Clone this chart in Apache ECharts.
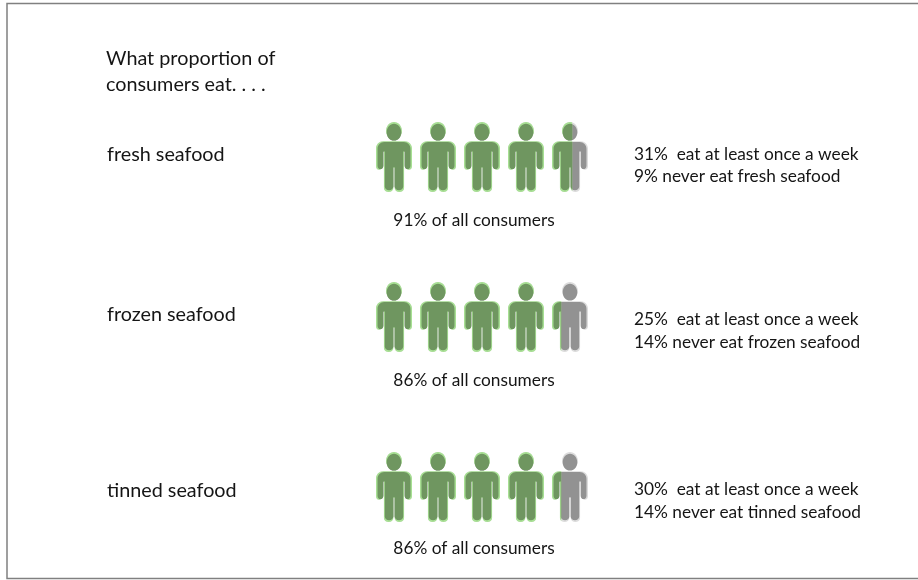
<!DOCTYPE html>
<html>
<head>
<meta charset="utf-8">
<style>html,body{margin:0;padding:0;background:#fff}#chart{width:918px;height:580px}</style>
<script src="https://cdn.jsdelivr.net/npm/echarts@6/dist/echarts.min.js"></script>
</head>
<body>
<div id="chart"></div>
<script>
const categories = ['fresh seafood', 'frozen seafood', 'tinned seafood'];
const eatPercent = [91, 86, 86];
const weeklyPercent = [31, 25, 30];
const neverPercent = [9, 14, 14];
const scaleMax = 100;
const figuresPerRow = 5;

// Vertical placement of each row's figures and captions
const rowTops = [123, 283, 453];
const nameY = [155, 315, 491];
const shareY = [220, 380, 548];
const weeklyY = [154, 319, 489];
const neverY = [176, 342, 512];
const font = 'Lato, Carlito, "Open Sans", sans-serif';

const person = 'path://M17 0C21.2 0 24.5 3.8 24.5 8.5C24.5 13.2 21.2 17 17 17C12.8 17 9.5 13.2 9.5 8.5C9.5 3.8 12.8 0 17 0Z' +
  'M7 18.5H27C31 18.5 34 21.5 34 25.5V42.5C34 47 28 47 28 42.5V28H26.5V63.5C26.5 68.5 17.7 68.5 17.7 63.5V44H16.3V63.5' +
  'C16.3 68.5 7.5 68.5 7.5 63.5V28H6V42.5C6 47 0 47 0 42.5V25.5C0 21.5 3 18.5 7 18.5Z';

const grids = rowTops.map(top => ({ left: 372, width: 220, top, height: 68 }));
const xAxes = rowTops.map((_, i) => ({ type: 'value', gridIndex: i, min: 0, max: scaleMax, show: false }));
const yAxes = categories.map((name, i) => ({
  type: 'category', gridIndex: i, data: [name],
  axisLine: { show: false }, axisTick: { show: false }, axisLabel: { show: false }
}));

// One row of figures, clipped at the given percentage of the row's length
function row(i, value, fill, size, z) {
  return {
    type: 'pictorialBar', xAxisIndex: i, yAxisIndex: i, z,
    data: [value], symbol: person, symbolSize: size,
    symbolRepeat: figuresPerRow, symbolMargin: '5!', symbolClip: true,
    symbolBoundingData: scaleMax, silent: true, animation: false,
    itemStyle: { color: fill }
  };
}
const halo = [36, 70];
const body = [33, 66.5];
const series = [];
categories.forEach((_, i) => {
  series.push(row(i, scaleMax, '#dcdcdc', halo, 2));
  series.push(row(i, scaleMax, '#929292', body, 3));
  series.push(row(i, eatPercent[i], '#a8e094', halo, 4));
  series.push(row(i, eatPercent[i], '#6f9660', body, 5));
});

function text(x, y, str, size, align) {
  return { type: 'text', x, y, style: {
    text: str, fill: '#151515', font: size + 'px ' + font,
    textAlign: align || 'left', textVerticalAlign: 'middle'
  } };
}
const textEls = [
  text(106, 59, 'What proportion of', 19.8),
  text(106, 85, 'consumers eat. . . .', 19.8)
];
categories.forEach((name, i) => {
  textEls.push(text(107, nameY[i], name, 19.8));
  textEls.push(text(474, shareY[i], eatPercent[i] + '% of all consumers', 17.3, 'center'));
  textEls.push(text(634, weeklyY[i], weeklyPercent[i] + '%  eat at least once a week', 17.3));
  textEls.push(text(634, neverY[i], neverPercent[i] + '% never eat ' + name, 17.3));
});
const frame = { type: 'rect', shape: { x: 7, y: 3.5, width: 920, height: 575 },
  style: { fill: 'none', stroke: '#808080', lineWidth: 1.5 } };

const chart = echarts.init(document.getElementById('chart'), null, { renderer: 'canvas' });
chart.setOption({
  animation: false, backgroundColor: '#fff',
  grid: grids, xAxis: xAxes, yAxis: yAxes, series,
  graphic: { elements: [frame].concat(textEls) }
});
</script>
</body>
</html>
